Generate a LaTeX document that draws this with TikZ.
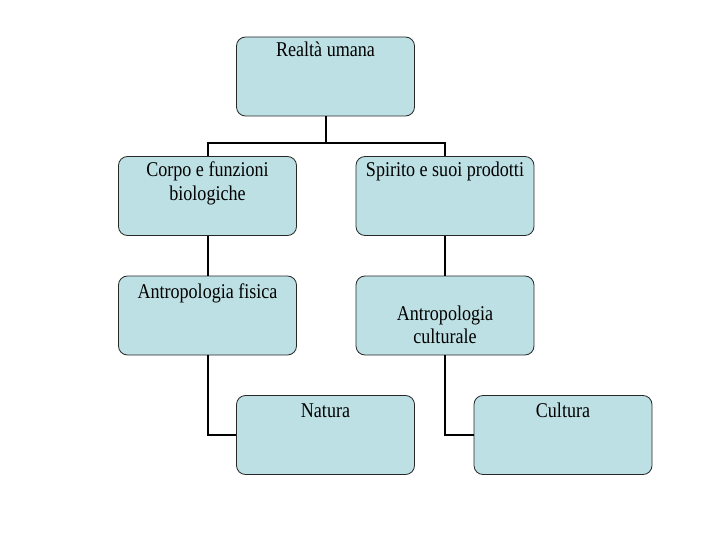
\documentclass[tikz,border=0pt]{standalone}
\usepackage{graphicx}
\usepackage{fontspec}
\setmainfont{Liberation Serif}
\definecolor{boxfill}{RGB}{189,224,228}
\definecolor{boxline}{RGB}{40,40,40}
\newcommand\sqz[1]{\scalebox{0.86}[1]{#1}}
\begin{document}
\begin{tikzpicture}[x=1pt,y=-1pt,
  box/.style={draw=boxline,line width=0.8pt,fill=boxfill,rounded corners=9pt,
    minimum width=178pt,minimum height=79pt,inner sep=0pt},
  lbl/.style={anchor=base,inner sep=0pt,font=\fontsize{21}{24}\selectfont},
  conn/.style={draw=black,line width=2pt}]
\useasboundingbox (0,0) rectangle (720,540);
\node[box] (top) at (325.5,76.5) {};
\node[box] (corpo) at (207.5,196) {};
\node[box] (spirito) at (445,196) {};
\node[box] (fis) at (207.5,315.5) {};
\node[box] (cult) at (445,315.5) {};
\node[box] (natura) at (325.5,435) {};
\node[box] (cultura) at (563,435) {};
\node[lbl] (t1) at (325.5,57) {\sqz{Realtà umana}};
\node[lbl] (t2) at (207.5,177) {\sqz{Corpo e funzioni}};
\node[lbl] (t3) at (207.5,201) {\sqz{biologiche}};
\node[lbl] (t4) at (445,177) {\sqz{Spirito e suoi prodotti}};
\node[lbl] (t5) at (207.5,298) {\sqz{Antropologia fisica}};
\node[lbl] (t6) at (445,320) {\sqz{Antropologia}};
\node[lbl] (t7) at (445,343) {\sqz{culturale}};
\node[lbl] (t8) at (325.5,417) {\sqz{Natura}};
\node[lbl] (t9) at (563,417) {\sqz{Cultura}};
\draw[conn] (top.south) -- ++(0,27) coordinate (j);
\draw[conn] (corpo.north) |- (j) -| (spirito.north);
\draw[conn] (corpo.south) -- (fis.north);
\draw[conn] (spirito.south) -- (cult.north);
\draw[conn] (fis.south) |- (natura.west);
\draw[conn] (cult.south) |- (cultura.west);
\end{tikzpicture}
\end{document}
